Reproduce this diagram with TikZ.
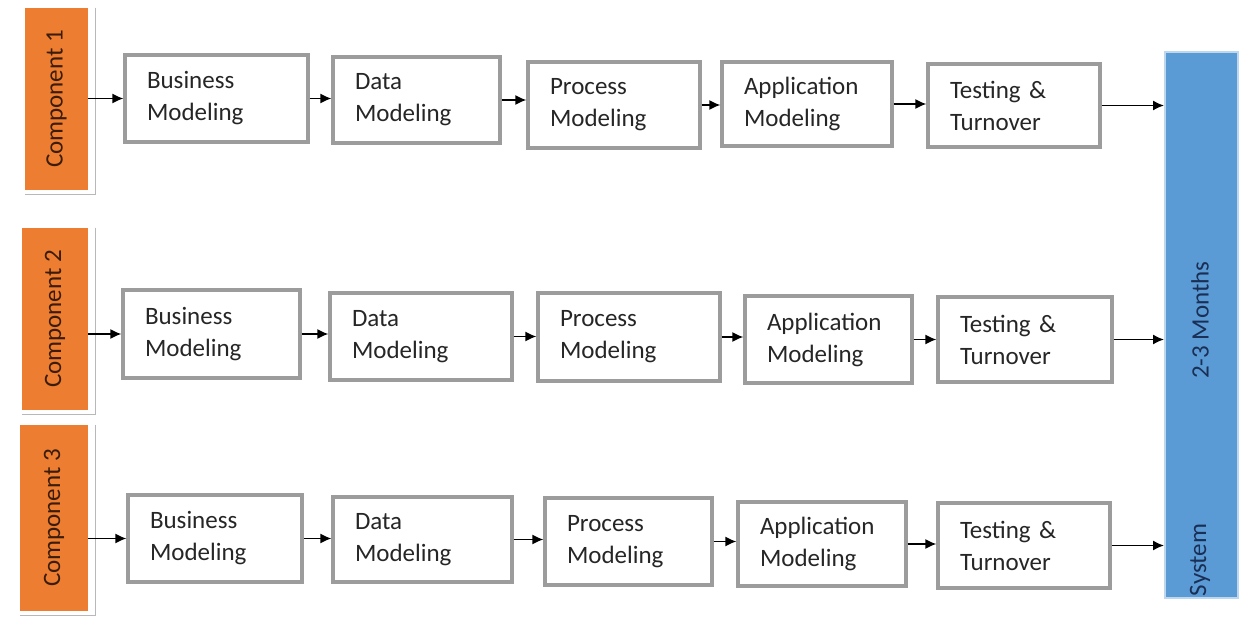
\documentclass[tikz,border=0pt]{standalone}
\usepackage{fontspec}
\setmainfont{Carlito}
\usetikzlibrary{arrows.meta}
\definecolor{compor}{HTML}{ED7D31}
\definecolor{barblue}{HTML}{5B9BD5}
\definecolor{baredge}{HTML}{BDD7EE}
\definecolor{boxgray}{HTML}{9C9C9C}
\definecolor{navytext}{HTML}{1A2F55}
\definecolor{comptext}{HTML}{3A1C08}
\definecolor{shadowgray}{HTML}{B8B8B8}
\newcommand\placebox[7]{%
  \pgfmathsetmacro\pbw{(#5-#3)*0.5}%
  \pgfmathsetmacro\pbh{(#6-#4)*0.5}%
  \pgfmathsetmacro\pbtw{(#5-#3)*0.5-22}%
  \pgfmathsetmacro\pbcx{(#3+#5)/2}%
  \pgfmathsetmacro\pbcy{(#4+#6)/2}%
  \node[#1, minimum width=\pbw pt, minimum height=\pbh pt] (#2) at (\pbcx,\pbcy) {#7};}
\begin{document}
\begin{tikzpicture}[x=0.5pt,y=-0.5pt,
  font=\fontsize{12.5}{16}\selectfont,
  stage/.style={draw=boxgray, line width=1.6pt, fill=white, align=left,
    inner xsep=11pt, inner ysep=0pt, text width=\pbtw pt, text=black!85},
  comp/.style={fill=compor, inner sep=0pt, text=comptext},
  compshadow/.style={draw=shadowgray, line width=0.8pt},
  sysbar/.style={fill=barblue, draw=baredge, line width=1pt, inner sep=0pt},
  bartext/.style={rotate=90, text=navytext, inner sep=1pt},
  flow/.style={-{Latex[length=5.5pt,width=5pt]}, line width=0.75pt, black}]
\fill[white] (0,0) rectangle (1244,620);
\useasboundingbox (0,0) rectangle (1244,620);

% components
\placebox{comp}{C1}{25}{8}{88}{190}{\rotatebox{90}{Component 1}}
\placebox{comp}{C2}{22}{228}{88}{410}{\rotatebox{90}{Component 2}}
\placebox{comp}{C3}{20}{425}{88}{611}{\rotatebox{90}{Component 3}}
\foreach \c in {C1,C2,C3}{
  \draw[compshadow] ([xshift=3.5pt]\c.north east) |- ([yshift=-2pt]\c.south west);
}

% system bar
\placebox{sysbar}{S}{1165}{52}{1238}{598}{}
\node[bartext] (months) at (1200,320) {2-3 Months};
\node[bartext] (system) at (1200,560) {System};

% row 1
\placebox{stage}{B1}{125}{55}{308}{142}{Business\\Modeling}
\placebox{stage}{D1}{333}{57}{500}{143}{Data\\Modeling}
\placebox{stage}{P1}{528}{62}{700}{148}{Process\\Modeling}
\placebox{stage}{A1}{722}{62}{892}{146}{Application\\Modeling}
\placebox{stage}{T1}{928}{64}{1100}{147}{Testing \&\\Turnover}
% row 2
\placebox{stage}{B2}{123}{290}{300}{378}{Business\\Modeling}
\placebox{stage}{D2}{330}{293}{512}{380}{Data\\Modeling}
\placebox{stage}{P2}{538}{293}{720}{381}{Process\\Modeling}
\placebox{stage}{A2}{745}{296}{912}{383}{Application\\Modeling}
\placebox{stage}{T2}{938}{297}{1112}{382}{Testing \&\\Turnover}
% row 3
\placebox{stage}{B3}{128}{495}{302}{582}{Business\\Modeling}
\placebox{stage}{D3}{333}{497}{512}{582}{Data\\Modeling}
\placebox{stage}{P3}{545}{498}{712}{585}{Process\\Modeling}
\placebox{stage}{A3}{738}{502}{906}{586}{Application\\Modeling}
\placebox{stage}{T3}{938}{503}{1110}{588}{Testing \&\\Turnover}

% connectors
\foreach \r in {1,2,3}{
  \draw[flow] (C\r.east |- B\r.west) -- (B\r.west);
  \draw[flow] (B\r.east) -- (B\r.east -| D\r.west);
  \draw[flow] (D\r.east) -- (D\r.east -| P\r.west);
  \draw[flow] (P\r.east) -- (P\r.east -| A\r.west);
  \draw[flow] (A\r.east) -- (A\r.east -| T\r.west);
  \draw[flow] (T\r.east) -- (T\r.east -| S.west);
}
\end{tikzpicture}
\end{document}
